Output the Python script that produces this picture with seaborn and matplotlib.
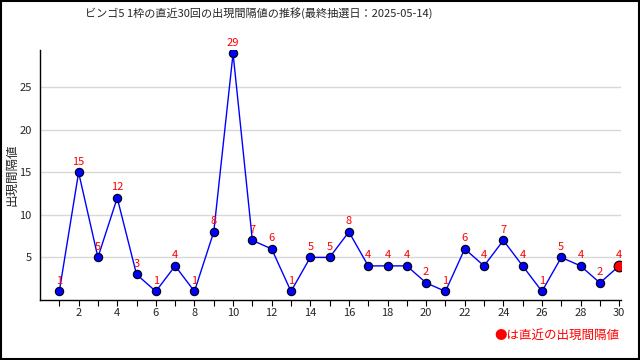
import numpy as np
import pandas as pd
import matplotlib
matplotlib.use("Agg")
import matplotlib.pyplot as plt
import seaborn as sns

# Dati: ultimi 30 estrazioni
rounds = list(range(1, 31))
intervals = [1, 15, 5, 12, 3, 1, 4, 1, 8, 29, 7, 6, 1, 5, 5, 8, 4, 4, 4, 2,
             1, 6, 4, 7, 4, 1, 5, 4, 2, 4]
title = "ビンゴ5 1枠の直近30回の出現間隔値の推移(最終抽選日：2025-05-14)"
ylabel = "出現間隔値"
note = "●は直近の出現間隔値"

df = pd.DataFrame({"round": rounds, "interval": intervals})

sns.set_style("white")
plt.rcParams['font.family'] = ['Noto Sans CJK JP', 'DejaVu Sans']

fig = plt.figure(figsize=(6.4, 3.6), dpi=100)
ax = fig.add_axes([0.0625, 0.167, 0.908, 0.694])

sns.lineplot(data=df, x="round", y="interval", ax=ax, color="blue", linewidth=1,
             marker="o", markersize=6, markerfacecolor="blue",
             markeredgecolor="black", markeredgewidth=0.8)
# ultimo punto in rosso
last = df.iloc[[-1]]
sns.scatterplot(data=last, x="round", y="interval", ax=ax, color="red",
                edgecolor="black", linewidth=0.8, s=60, zorder=5)

for r, v in zip(rounds, intervals):
    ax.annotate(str(v), (r, v), xytext=(0, 4), textcoords="offset points",
                ha="center", va="bottom", color="red", fontsize=8)

ax.set_xlim(0, 30.1)
ax.set_ylim(0, 29.4)
ax.set_xticks(rounds)
ax.set_xticklabels([str(r) if r % 2 == 0 else "" for r in rounds], fontsize=8)
ax.set_yticks([5, 10, 15, 20, 25])
ax.tick_params(axis="y", labelsize=8, length=0, pad=6)
ax.tick_params(axis="x", length=4, width=0.8, color="black", direction="out", bottom=True, pad=2)
ax.yaxis.grid(True, color="#d8d8d8", linewidth=1)
ax.set_axisbelow(True)
for s in ["top", "right"]:
    ax.spines[s].set_visible(False)
for s in ["left", "bottom"]:
    ax.spines[s].set_color("black")
    ax.spines[s].set_linewidth(1)
ax.set_xlabel("")
ax.set_ylabel(ylabel, fontsize=9)
ax.yaxis.set_label_coords(-0.037, 0.5)

fig.text(0.405, 0.965, title, fontsize=8, ha="center", va="center")
fig.text(0.968, 0.068, note, color="red", fontsize=9, ha="right", va="center")

# cornice nera attorno all'immagine
fig.patches.append(plt.Rectangle((0.001, 0.002), 0.997, 0.996, transform=fig.transFigure,
                                 fill=False, edgecolor="black", linewidth=1.5))

fig.savefig("out.png", dpi=100)
